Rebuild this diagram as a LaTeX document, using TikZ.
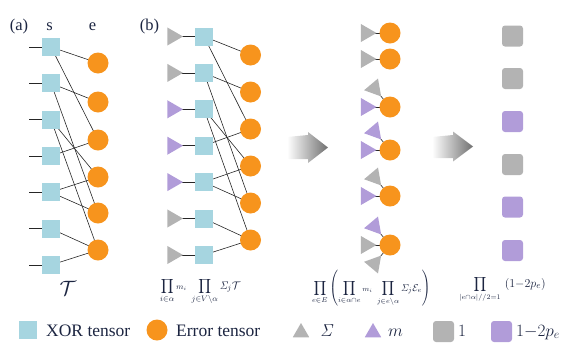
\documentclass[tikz,border=0pt]{standalone}
\usepackage[no-math]{fontspec}
\setmainfont{Liberation Serif}
\usetikzlibrary{shapes.geometric,backgrounds,calc}
\definecolor{xorc}{HTML}{A6D5E0}
\definecolor{errc}{HTML}{F7941D}
\definecolor{grayc}{HTML}{B3B3B3}
\definecolor{purc}{HTML}{B19CD9}
\definecolor{txtc}{HTML}{1C2541}
\definecolor{arrc}{HTML}{707070}
\newcommand{\iSig}{\mathit{\Sigma}}
\tikzset{
  xorsq/.style={rectangle, fill=xorc, minimum size=18pt, inner sep=0pt},
  errnode/.style={circle, fill=errc, minimum size=21pt, inner sep=0pt},
  tri/.style={regular polygon, regular polygon sides=3, minimum size=21pt, inner sep=0pt},
  resq/.style={rectangle, rounded corners=3pt, minimum size=21pt, inner sep=0pt},
  edge/.style={draw=black!85, line width=0.6pt},
  lab/.style={font=\fontsize{16.5}{19}\selectfont, inner sep=0pt},
  lgtext/.style={font=\fontsize{17.5}{20}\selectfont, inner sep=0pt},
  bigarrow/.style={left color=white, right color=arrc}
}
\begin{document}
\begin{tikzpicture}[x=1pt,y=-1pt, every node/.style={text=txtc}]
\useasboundingbox (0,0) rectangle (583,354);

% labels
\node[lab, anchor=base] (la) at (19,30.5) {(a)};
\node[lab, anchor=base] (ls) at (49.5,30.5) {s};
\node[lab, anchor=base] (le) at (92.5,30.5) {e};
\node[lab, anchor=base] (lb) at (149.5,30.5) {(b)};

% panel (a)
\foreach \i/\y in {1/47,2/83.3,3/119.7,4/156,5/192.3,6/228.7,7/265}{
  \node[xorsq] (as\i) at (51,\y) {};
  \coordinate (al\i) at (29,\y);
}
\foreach \i/\y in {1/63,2/102,3/140,4/177,5/213,6/250}
  \node[errnode] (ac\i) at (98,\y) {};
\node[font=\fontsize{22}{24}\selectfont, inner sep=0pt] (tT) at (68,288) {$\mathcal{T}$};

% panel (b)
\foreach \i/\y/\c in {1/36.5/grayc,2/72.9/grayc,3/109.3/purc,4/145.7/purc,5/182.1/purc,6/218.5/grayc,7/255/grayc}{
  \node[xorsq] (bs\i) at (204,\y) {};
  \node[tri, fill=\c, shape border rotate=-90] (bt\i) at (172.5,\y) {};
}
\foreach \i/\y in {1/55,2/92,3/129,4/166,5/203,6/240}
  \node[errnode] (bc\i) at (250.5,\y) {};

\begin{pgfonlayer}{background}
  \foreach \i in {1,...,7}{
    \draw[edge] (al\i) -- (as\i.center);
    \draw[edge] (bt\i.center) -- (bs\i.center);
  }
  \foreach \a/\b in {1/1,1/3,2/2,2/5,3/4,3/6,4/3,5/4,5/5,6/6,7/6}{
    \draw[edge] (as\a.center) -- (ac\b.center);
    \draw[edge] (bs\a.center) -- (bc\b.center);
  }
\end{pgfonlayer}

% arrows
\shade[bigarrow] (287,137) -- (308,135) -- (308,132) -- (328,147.5) -- (308,163) -- (308,159) -- (287,159) -- cycle;
\shade[bigarrow] (432,137) -- (453,135) -- (453,131.5) -- (473,146.5) -- (453,161.5) -- (453,158) -- (432,158) -- cycle;

% middle column
\foreach \i/\y/\c in {1/33/grayc,2/59/grayc,3/107/purc,4/150/purc,5/196/purc,6/245/grayc}{
  \node[errnode] (mc\i) at (390,\y) {};
  \node[tri, fill=\c, shape border rotate=-90] (mt\i) at ($(mc\i)+(-24,0)$) {};
}
\foreach \i/\c in {3/grayc,4/purc,5/grayc,6/purc}
  \node[tri, fill=\c, shape border rotate=-140] (mu\i) at ($(mc\i)+(-15.6,-18.6)$) {};
\node[tri, fill=grayc, shape border rotate=-40] (md6) at ($(mc6)+(-15.6,18.6)$) {};
\begin{pgfonlayer}{background}
  \foreach \i in {1,...,6} \draw[edge] (mt\i.center) -- (mc\i.center);
  \foreach \i in {3,...,6} \draw[edge] (mu\i.center) -- (mc\i.center);
  \draw[edge] (md6.center) -- (mc6.center);
\end{pgfonlayer}

% right column
\foreach \i/\y/\c in {1/36/grayc,2/78.5/grayc,3/121.5/purc,4/164.5/grayc,5/207/purc,6/250.5/purc}
  \node[resq, fill=\c] (rs\i) at (512.5,\y) {};

% formulas
\node[anchor=base west, inner sep=0pt, font=\fontsize{11}{13}\selectfont] (fb) at (160,289)
  {$\displaystyle\prod_{i\in\alpha}{\scriptstyle m_i}\;\prod_{j\in V\backslash\alpha}{\textstyle\iSig_j\mathcal{T}}$};
\node[anchor=base west, inner sep=0pt, font=\fontsize{10}{12}\selectfont] (fm) at (312,291)
  {$\displaystyle\prod_{e\in E}\left(\prod_{i\in\alpha\cap e}{\scriptstyle m_i}\;\prod_{j\in e\backslash\alpha}{\textstyle\iSig_j\mathcal{E}_e}\right)$};
\node[anchor=base west, inner sep=0pt, font=\fontsize{9.5}{11}\selectfont] (fr) at (459,287)
  {$\displaystyle\prod_{|e\cap\alpha|//2=1}\;\hbox{\fontsize{12.5}{14}\selectfont$(1{-}2p_e)$}$};

% legend
\node[xorsq] (lgx) at (28,330) {};
\node[lgtext, anchor=base west] (lgxt) at (46,336) {XOR tensor};
\node[errnode] (lge) at (157,330) {};
\node[lgtext, anchor=base west] (lget) at (176,336) {Error tensor};
\node[tri, fill=grayc, minimum size=19pt] (lgs) at (301,332.5) {};
\node[lgtext, anchor=base west] (lgst) at (320,336) {$\iSig$};
\node[tri, fill=purc, minimum size=19pt] (lgm) at (373,332.5) {};
\node[lgtext, anchor=base west] (lgmt) at (388,336) {$m$};
\node[resq, fill=grayc] (lg1) at (443.5,331.5) {};
\node[lgtext, anchor=base west] (lg1t) at (458,336) {$1$};
\node[resq, fill=purc] (lg2) at (501.5,331.5) {};
\node[lgtext, anchor=base west] (lg2t) at (516,336) {$1{-}2p_e$};
\end{tikzpicture}
\end{document}
